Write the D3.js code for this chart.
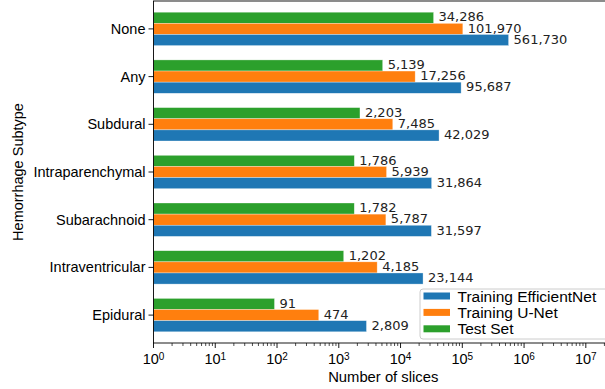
<!DOCTYPE html>
<html>
<head>
<meta charset="utf-8">
<script src="https://cdn.jsdelivr.net/npm/d3@7"></script>
<style>
  body { margin: 0; background: #fff; }
  svg { display: block; }
  text { font-family: "Liberation Sans", Arial, sans-serif; fill: #000; }
  .val { font-family: "DejaVu Sans", sans-serif; font-size: 13px; fill: #222; }
</style>
</head>
<body>
<div id="chart"></div>
<script>
// categories from top to bottom
const categories = ["None", "Any", "Subdural", "Intraparenchymal", "Subarachnoid", "Intraventricular", "Epidural"];
const seriesNames = ["Test Set", "Training U-Net", "Training EfficientNet"];
const testSet = [34286, 5139, 2203, 1786, 1782, 1202, 91];
const trainUNet = [101970, 17256, 7485, 5939, 5787, 4185, 474];
const trainEff = [561730, 95687, 42029, 31864, 31597, 23144, 2809];
const xTickExps = [0, 1, 2, 3, 4, 5, 6, 7];
const colors = ["#2ca02c", "#ff7f0e", "#1f77b4"];

// axes run a little past the right edge of the picture
const dimensions = {
  width: 605,
  height: 389,
  margin: { top: 1, right: -8, bottom: 46, left: 153.5 },
};
dimensions.boundedWidth = dimensions.width - dimensions.margin.left - dimensions.margin.right;
dimensions.boundedHeight = dimensions.height - dimensions.margin.top - dimensions.margin.bottom;

const svg = d3.select("#chart").append("svg")
  .attr("width", dimensions.width)
  .attr("height", dimensions.height);

const g = svg.append("g")
  .attr("transform", `translate(${dimensions.margin.left},${dimensions.margin.top})`);

// log x scale, about 62px per decade
const x = d3.scaleLog()
  .domain([1, Math.pow(10, 7.44)])
  .range([0, dimensions.boundedWidth]);

const y = d3.scalePoint()
  .domain(categories)
  .range([0, dimensions.boundedHeight])
  .padding(0.585);

const step = y.step();
const barH = step * 0.7 / 3;

const series = [testSet, trainUNet, trainEff];

// bars
series.forEach((vals, si) => {
  const rows = categories.map((c, i) => ({ cat: c, v: vals[i] }));
  g.append("g").selectAll("rect")
    .data(rows)
    .join("rect")
    .attr("x", 0)
    .attr("y", d => y(d.cat) + (si - 1.5) * barH)
    .attr("width", d => x(d.v))
    .attr("height", barH)
    .attr("fill", colors[si])
    .attr("stroke", "#fff")
    .attr("stroke-opacity", 0.55)
    .attr("stroke-width", 0.6);
});

// value labels
const fmt = d3.format(",");
series.forEach((vals, si) => {
  g.append("g").selectAll("text")
    .data(categories.map((c, i) => ({ cat: c, v: vals[i] })))
    .join("text")
    .attr("class", "val")
    .attr("x", d => x(d.v) + 5)
    .attr("y", d => y(d.cat) + (si - 1) * barH - 1)
    .attr("dy", "0.36em")
    .text(d => fmt(d.v));
});

// x axis
const xAxisG = g.append("g")
  .attr("transform", `translate(0,${dimensions.boundedHeight})`);
const minorVals = [];
for (let e = 0; e < 8; e++) {
  for (let k = 2; k <= 9; k++) minorVals.push(k * Math.pow(10, e));
}
xAxisG.selectAll(".minor")
  .data(minorVals.filter(v => x(v) <= dimensions.boundedWidth))
  .join("line")
  .attr("x1", d => x(d)).attr("x2", d => x(d))
  .attr("y1", 0).attr("y2", 3)
  .attr("stroke", "#000").attr("stroke-width", 0.7);
const majors = xAxisG.selectAll(".major")
  .data(xTickExps)
  .join("g")
  .attr("transform", d => `translate(${x(Math.pow(10, d))},0)`);
majors.append("line")
  .attr("y1", 0).attr("y2", 5)
  .attr("stroke", "#000").attr("stroke-width", 0.9);
const tl = majors.append("text")
  .attr("y", 21)
  .attr("text-anchor", "middle")
  .style("font-size", "14.5px");
tl.append("tspan").text("10");
tl.append("tspan")
  .attr("dy", "-0.45em")
  .style("font-size", "10px")
  .text(d => d);

// y axis ticks
const yAxisG = g.append("g");
yAxisG.selectAll("g")
  .data(categories)
  .join("g")
  .attr("transform", d => `translate(0,${y(d)})`)
  .call(s => s.append("line").attr("x1", -5).attr("x2", 0).attr("stroke", "#000").attr("stroke-width", 0.9))
  .call(s => s.append("text")
    .attr("x", -8)
    .attr("dy", "0.35em")
    .attr("text-anchor", "end")
    .style("font-size", "14.5px")
    .text(d => d));

// frame
g.append("rect")
  .attr("x", 0).attr("y", 0)
  .attr("width", dimensions.boundedWidth)
  .attr("height", dimensions.boundedHeight)
  .attr("fill", "none")
  .attr("stroke", "#000")
  .attr("stroke-width", 0.9);

// axis titles
svg.append("text")
  .attr("x", dimensions.margin.left + dimensions.boundedWidth / 2)
  .attr("y", 382)
  .attr("text-anchor", "middle")
  .style("font-size", "14.8px")
  .text("Number of slices");

svg.append("text")
  .attr("transform", `translate(23,${dimensions.margin.top + dimensions.boundedHeight / 2}) rotate(-90)`)
  .attr("text-anchor", "middle")
  .style("font-size", "14.5px")
  .text("Hemorrhage Subtype");

// legend (order: EfficientNet, U-Net, Test)
const legend = svg.append("g").attr("transform", "translate(420,289)");
legend.append("rect")
  .attr("x", 0).attr("y", 0)
  .attr("width", 200).attr("height", 50)
  .attr("rx", 3)
  .attr("fill", "#fff")
  .attr("fill-opacity", 0.8)
  .attr("stroke", "#ccc");
const legendOrder = [2, 1, 0];
legendOrder.forEach((si, i) => {
  const ly = 7 + i * 16.4;
  legend.append("rect")
    .attr("x", 3.5).attr("y", ly - 3.5)
    .attr("width", 26.5).attr("height", 7)
    .attr("fill", colors[si]);
  legend.append("text")
    .attr("x", 37.5)
    .attr("y", ly)
    .attr("dy", "0.36em")
    .style("font-size", "15.5px")
    .text(seriesNames[si]);
});
</script>
</body>
</html>
